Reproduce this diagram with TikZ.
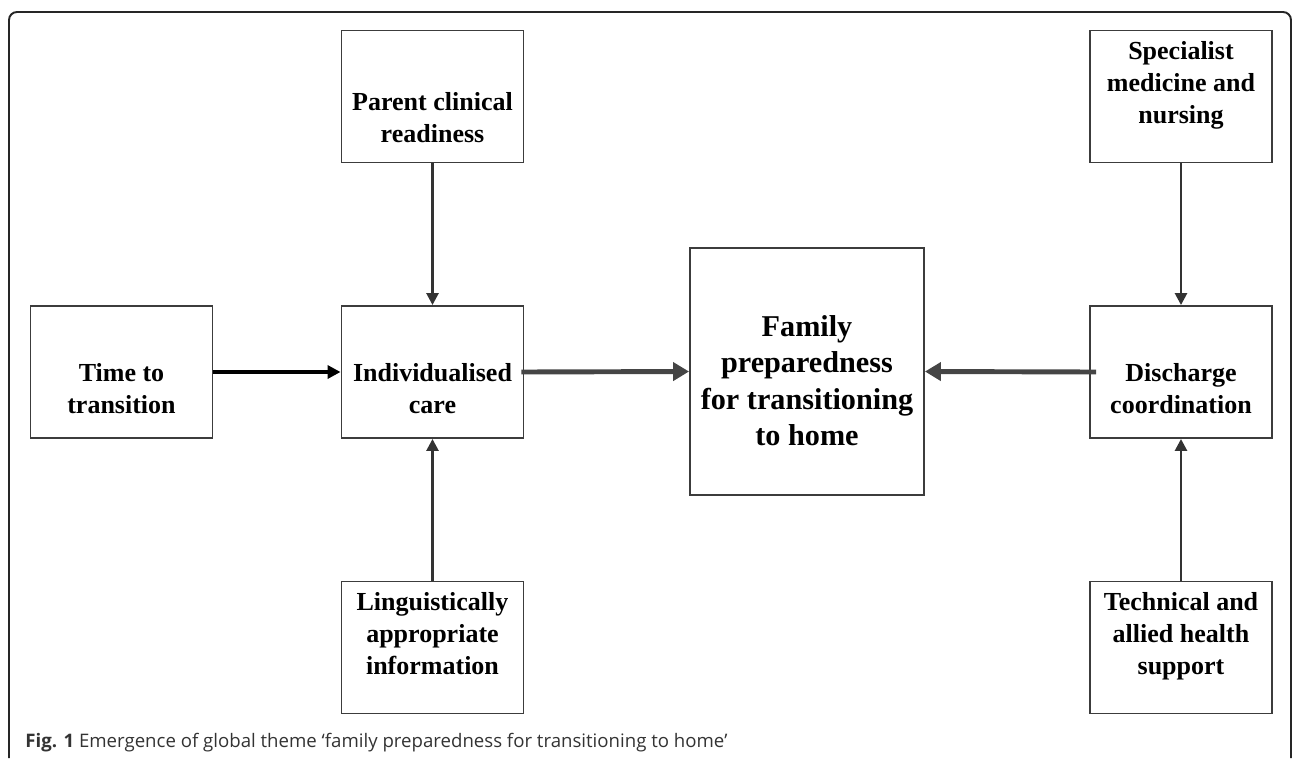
\documentclass[tikz,border=0pt]{standalone}
\usepackage{fontspec}
\setmainfont{Liberation Serif}
\setsansfont{Open Sans}
\usetikzlibrary{arrows.meta,positioning}
\definecolor{boxgray}{HTML}{3C3C3C}
\definecolor{arrgray}{HTML}{454545}
\begin{document}
\begin{tikzpicture}[x=0.02cm,y=-0.02cm,
	box/.style={draw=boxgray,line width=1.1pt,minimum width=3.64cm,minimum height=2.64cm,inner sep=0pt},
	txt/.style={text width=4.4cm,align=flush center,anchor=base,inner sep=0pt,font=\bfseries\fontsize{14.8}{18.2}\selectfont},
	vline/.style={draw=black!80,line width=1.5pt,-{Triangle[length=0.24cm,width=0.24cm]}},
	blackarr/.style={draw=black,line width=2.3pt,-{Triangle[length=0.26cm,width=0.26cm]}},
	grayarr/.style={draw=arrgray,line width=2.8pt,-{Triangle[length=0.32cm,width=0.36cm]}}]
	\useasboundingbox (0,0) rectangle (1292,758);
	\draw[line width=1.1pt,rounded corners=0.16cm,black!85] (9,758) -- (9,12) -- (1291,12) -- (1291,758);
	\node[box] (time) at (121.5,372) {};
	\node[box] (indiv) at (432.5,372) {};
	\node[box] (parent) at (432.5,96.5) {};
	\node[box] (ling) at (432.5,647.5) {};
	\node[box,minimum width=4.68cm,minimum height=4.94cm] (family) at (807,371.5) {};
	\node[box] (special) at (1181,96.5) {};
	\node[box] (disch) at (1181,372) {};
	\node[box] (tech) at (1181,647.5) {};
	\node[txt] (time-t) at ([yshift=-1.53cm]time.north) {Time to\\transition};
	\node[txt] (indiv-t) at ([yshift=-1.53cm]indiv.north) {Individualised\\care};
	\node[txt] (parent-t) at ([yshift=-1.61cm]parent.north) {Parent clinical\\readiness};
	\node[txt] (ling-t) at ([yshift=-0.6cm]ling.north) {Linguistically\\appropriate\\information};
	\node[txt,text width=4.6cm,font=\bfseries\fontsize{17.2}{20.8}\selectfont] (family-t) at ([yshift=-1.78cm]family.north) {Family\\preparedness\\for transitioning\\to home};
	\node[txt] (special-t) at ([yshift=-0.6cm]special.north) {Specialist\\medicine and\\nursing};
	\node[txt] (disch-t) at ([yshift=-1.53cm]disch.north) {Discharge\\coordination};
	\node[txt] (tech-t) at ([yshift=-0.6cm]tech.north) {Technical and\\allied health\\support};
	\foreach \a/\b in {parent/indiv,ling/indiv,special/disch,tech/disch}{\draw[vline] (\a) -- (\b);}
	\draw[blackarr] (time) -- (indiv);
	\draw[grayarr] ([xshift=-0.06cm]indiv.east) -- (family.west);
	\draw[grayarr] ([xshift=0.14cm]disch.west) -- (family.east);
	\node[anchor=base west,inner sep=0pt,font=\sffamily\fontsize{10.6}{12.7}\selectfont,text=black!80] (caption) at (25,747) {\textbf{Fig. 1} Emergence of global theme ‘family preparedness for transitioning to home’};
\end{tikzpicture}
\end{document}
